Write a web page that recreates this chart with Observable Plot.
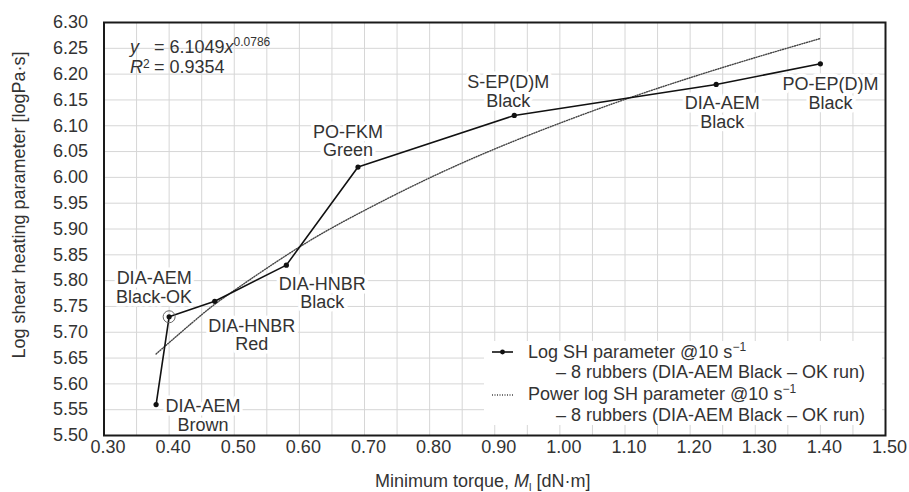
<!DOCTYPE html>
<html><head><meta charset="utf-8">
<script src="https://cdn.jsdelivr.net/npm/d3@7"></script>
<script src="https://cdn.jsdelivr.net/npm/@observablehq/plot@0.6"></script>
<style>
body{margin:0;background:#fff;}
#wrap{position:relative;width:909px;height:492px;font-family:"Liberation Sans",Arial,sans-serif;color:#333;}
#wrap svg{display:block;}
.ov{position:absolute;font-size:18px;line-height:20.5px;white-space:nowrap;color:#333;}
.ov sup{font-size:12px;line-height:0;vertical-align:7px;}
.ov sub{font-size:11px;line-height:0;vertical-align:-4px;}
.col{display:inline-block;width:24px;}
</style></head><body><div id="wrap"></div>
<script>
// ---- data ----
const rubbers = ["DIA-AEM\nBrown","DIA-AEM\nBlack-OK","DIA-HNBR\nRed","DIA-HNBR\nBlack","PO-FKM\nGreen","S-EP(D)M\nBlack","DIA-AEM\nBlack","PO-EP(D)M\nBlack"];
const minTorque = [0.38, 0.40, 0.47, 0.58, 0.69, 0.93, 1.24, 1.40];
const logSH     = [5.56, 5.73, 5.76, 5.83, 6.02, 6.12, 6.18, 6.22];
// dotted power trend line
const trendTorque = [0.38, 0.45, 0.50, 0.60, 0.70, 0.80, 0.90, 1.00, 1.10, 1.20, 1.30, 1.40];
const trendLogSH  = [5.658, 5.734, 5.781, 5.865, 5.936, 5.999, 6.055, 6.105, 6.151, 6.193, 6.232, 6.269];
const xTicks = [0.30,0.40,0.50,0.60,0.70,0.80,0.90,1.00,1.10,1.20,1.30,1.40,1.50];
const xGrid  = [0.30,0.35,0.40,0.45,0.50,0.55,0.60,0.65,0.70,0.75,0.80,0.85,0.90,0.95,1.00,1.05,1.10,1.15,1.20,1.25,1.30,1.35,1.40,1.45,1.50];
const yTicks = [5.50,5.55,5.60,5.65,5.70,5.75,5.80,5.85,5.90,5.95,6.00,6.05,6.10,6.15,6.20,6.25,6.30];
const highlighted = 1; // DIA-AEM Black-OK
const xTitle = "Minimum torque, ";
const yTitle = "Log shear heating parameter [logPa·s]";

// ---- layout (label nudges in px) ----
const labelNudge = [[47,11],[-15,-29],[37,34],[36,28],[-10,-26],[-6,-24],[6,28],[10,30]];

const idx = rubbers.map((_, i) => i);
const trendIdx = trendTorque.map((_, i) => i);
const fmt = d3.format(".2f");

const labelMarks = idx.map(i => Plot.text([i], {
  x: j => minTorque[j], y: j => logSH[j], text: j => rubbers[j],
  dx: labelNudge[i][0], dy: labelNudge[i][1],
  fontSize: 18, lineHeight: 1.03, fill: "#333",
  stroke: "white", strokeWidth: 7, paintOrder: "stroke"
}));

const plot = Plot.plot({
  width: 909, height: 492,
  marginLeft: 103.5, marginRight: 24, marginTop: 22, marginBottom: 57,
  x: {domain: [0.3, 1.5]},
  y: {domain: [5.5, 6.3]},
  style: {fontFamily: "'Liberation Sans', Arial, sans-serif", fontSize: "18px", color: "#333", background: "#fff"},
  marks: [
    Plot.gridX(xGrid, {stroke: "#d6d6d6", strokeOpacity: 1, strokeWidth: 1}),
    Plot.gridY(yTicks, {stroke: "#d6d6d6", strokeOpacity: 1, strokeWidth: 1}),
    Plot.axisX(xTicks, {tickSize: 0, tickPadding: 5, dx: 4, tickFormat: fmt, label: null, fontSize: 18}),
    Plot.axisY(yTicks, {tickSize: 0, tickPadding: 16, tickFormat: fmt, label: null, fontSize: 18}),
    Plot.text([yTitle], {frameAnchor: "left", textAnchor: "middle", rotate: -90, dx: -84.5, dy: -24, fontSize: 18, fill: "#333"}),
    ...labelMarks,
    Plot.line(trendIdx, {x: i => trendTorque[i], y: i => trendLogSH[i], stroke: "#444", strokeWidth: 1.4, strokeDasharray: "1,1.5", curve: "natural"}),
    Plot.line(idx, {x: i => minTorque[i], y: i => logSH[i], stroke: "#111", strokeWidth: 1.6}),
    Plot.dot(idx, {x: i => minTorque[i], y: i => logSH[i], r: 2.6, fill: "#111"}),
    Plot.dot([highlighted], {x: i => minTorque[i], y: i => logSH[i], r: 6, stroke: "#666", strokeWidth: 1, fill: "none"}),
    Plot.frame({stroke: "#1a1a1a", strokeWidth: 2})
  ]
});
const wrap = document.getElementById("wrap");
wrap.appendChild(plot);

// overlays: equation, legend, x title
wrap.insertAdjacentHTML("beforeend", `
<div class="ov" style="left:130px;top:36.5px;"><span class="col"><i>y</i></span>= 6.1049<i>x</i><sup>0.0786</sup></div>
<div class="ov" style="left:130px;top:57px;"><span class="col"><i>R</i><sup style="vertical-align:5px">2</sup></span>= 0.9354</div>
<div class="ov" style="left:484px;top:341px;width:398px;height:84px;background:#fff;">
  <svg style="position:absolute;left:8px;top:6px" width="22" height="10"><line x1="0" y1="5" x2="21" y2="5" stroke="#111" stroke-width="1.6"/><circle cx="10.5" cy="5" r="2.4" fill="#111"/></svg>
  <div style="position:absolute;left:44px;top:0.7px">Log SH parameter @10 s<sup>−1</sup></div>
  <div style="position:absolute;left:72px;top:21.2px">– 8 rubbers (DIA-AEM Black – OK run)</div>
  <svg style="position:absolute;left:8px;top:48.5px" width="22" height="10"><line x1="0" y1="5" x2="21" y2="5" stroke="#444" stroke-width="1.4" stroke-dasharray="1,1.5"/></svg>
  <div style="position:absolute;left:44px;top:43.2px">Power log SH parameter @10 s<sup>−1</sup></div>
  <div style="position:absolute;left:72px;top:63.7px">– 8 rubbers (DIA-AEM Black – OK run)</div>
</div>
<div class="ov" style="left:375px;top:471px;line-height:20.5px;">${xTitle}<i>M</i><sub>l</sub> [dN·m]</div>
`);
</script></body></html>
